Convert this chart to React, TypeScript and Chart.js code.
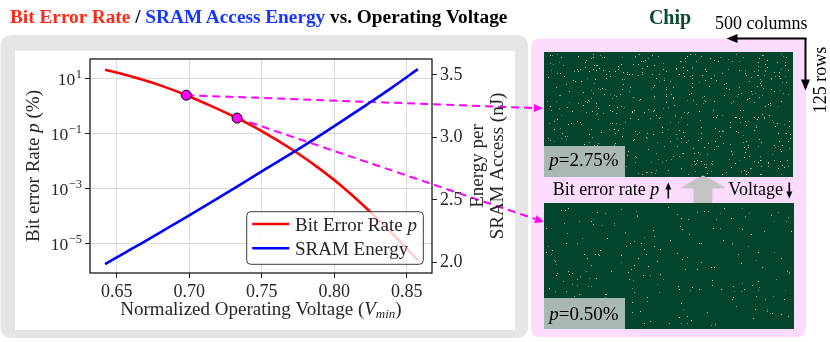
import React, { useEffect, useRef } from "react";
import { Chart, registerables } from "chart.js";

Chart.register(...registerables);

// ---------------- data ----------------
const voltage = [0.642, 0.655, 0.668, 0.683, 0.698, 0.715, 0.733, 0.75, 0.773, 0.79, 0.805, 0.822, 0.84, 0.8576];
const bitErrorRatePct = [20.4, 13.65, 8.81, 4.9, 2.45, 1.0, 0.363, 0.123, 0.0224, 0.00525, 0.00126, 0.0002, 0.000024, 0.00000251];
const sramEnergyNj = [1.986, 2.072, 2.158, 2.259, 2.361, 2.479, 2.606, 2.728, 2.89, 3.015, 3.128, 3.259, 3.401, 3.547];
const markerVoltage = [0.698, 0.733];
const markerRatePct = [2.45, 0.363];
const chipLabels = ["2.75%", "0.50%"];
const voltageTicks = [0.65, 0.7, 0.75, 0.8, 0.85];
const rateTicks = [1e-5, 1e-3, 1e-1, 1e1];
const energyTicks = [2.0, 2.5, 3.0, 3.5];
const voltageRange = [0.6316, 0.8674];
const rateRange = [8.9e-7, 50.1];
const energyRange = [1.914, 3.628];

const SERIF = '"Liberation Serif", "Times New Roman", serif';
const INK = "#262626";

Chart.defaults.font.family = SERIF;

type Seg = { t: string; it?: boolean; sz?: number; dy?: number };

function fontOf(s: Seg, size: number) {
  return `${s.it ? "italic " : ""}${s.sz ?? size}px ${SERIF}`;
}

function drawRich(ctx: CanvasRenderingContext2D, segs: Seg[], x: number, y: number, size: number, align: "left" | "center" | "right") {
  let total = 0;
  const ws = segs.map((s) => {
    ctx.font = fontOf(s, size);
    const w = ctx.measureText(s.t).width;
    total += w;
    return w;
  });
  let cx = align === "center" ? x - total / 2 : align === "right" ? x - total : x;
  ctx.textAlign = "left";
  ctx.textBaseline = "alphabetic";
  segs.forEach((s, i) => {
    ctx.font = fontOf(s, size);
    ctx.fillText(s.t, cx, y + (s.dy || 0));
    cx += ws[i];
  });
}

function roundRect(ctx: CanvasRenderingContext2D, x: number, y: number, w: number, h: number, r: number) {
  ctx.beginPath();
  ctx.moveTo(x + r, y);
  ctx.lineTo(x + w - r, y);
  ctx.quadraticCurveTo(x + w, y, x + w, y + r);
  ctx.lineTo(x + w, y + h - r);
  ctx.quadraticCurveTo(x + w, y + h, x + w - r, y + h);
  ctx.lineTo(x + r, y + h);
  ctx.quadraticCurveTo(x, y + h, x, y + h - r);
  ctx.lineTo(x, y + r);
  ctx.quadraticCurveTo(x, y, x + r, y);
  ctx.closePath();
}

function hash(n: number) {
  const s = Math.sin(n * 127.1 + 311.7) * 43758.5453;
  return s - Math.floor(s);
}

function drawChip(ctx: CanvasRenderingContext2D, x0: number, y0: number, w: number, h: number, count: number, seed: number) {
  ctx.fillStyle = "#04462b";
  ctx.fillRect(x0, y0, w, h);
  for (let i = 0; i < count; i++) {
    const k = seed * 7919 + i * 3;
    const x = x0 + 2 + Math.floor(hash(k) * (w - 4));
    const y = y0 + 2 + Math.floor(hash(k + 1) * (h - 4));
    const a = 0.4 + 0.5 * hash(k + 2);
    ctx.fillStyle = `rgba(225,235,225,${a.toFixed(2)})`;
    ctx.fillRect(x, y, 1, 1);
  }
}

function arrowHead(ctx: CanvasRenderingContext2D, tx: number, ty: number, ang: number, len: number, half: number) {
  const bx = tx - len * Math.cos(ang);
  const by = ty - len * Math.sin(ang);
  const px = -Math.sin(ang) * half;
  const py = Math.cos(ang) * half;
  ctx.beginPath();
  ctx.moveTo(tx, ty);
  ctx.lineTo(bx + px, by + py);
  ctx.lineTo(bx - px, by - py);
  ctx.closePath();
  ctx.fill();
}

const decorPlugin = {
  id: "decor",
  beforeDraw(chart: any) {
    const ctx: CanvasRenderingContext2D = chart.ctx;
    ctx.save();
    // grey panel + white plot box
    roundRect(ctx, 0.5, 35, 527.5, 303, 12);
    ctx.fillStyle = "#e5e5e5";
    ctx.fill();
    ctx.fillStyle = "#ffffff";
    ctx.fillRect(15, 51, 500, 279);
    // pink chip panel
    roundRect(ctx, 531, 38.5, 275, 298.5, 9);
    ctx.fillStyle = "#fcdcfc";
    ctx.fill();
    // chips
    drawChip(ctx, 544, 52, 249, 125, 600, 1);
    drawChip(ctx, 544, 203, 250, 126, 220, 2);
    // label boxes
    ctx.fillStyle = "#a9b8b2";
    ctx.fillRect(544, 146, 81, 31);
    ctx.fillRect(544, 298, 81, 31);
    // grey block arrow
    ctx.save();
    ctx.shadowColor = "rgba(0,0,0,0.25)";
    ctx.shadowBlur = 2;
    ctx.fillStyle = "#c4c4c4";
    ctx.beginPath();
    ctx.moveTo(703, 175.5);
    ctx.lineTo(725, 188);
    ctx.lineTo(712, 188);
    ctx.lineTo(712, 203);
    ctx.lineTo(694, 203);
    ctx.lineTo(694, 188);
    ctx.lineTo(681, 188);
    ctx.closePath();
    ctx.fill();
    ctx.restore();
    // black dimension arrows
    ctx.strokeStyle = "#000";
    ctx.fillStyle = "#000";
    ctx.lineWidth = 2;
    ctx.beginPath();
    ctx.moveTo(806.5, 38.5);
    ctx.lineTo(736, 38.5);
    ctx.stroke();
    arrowHead(ctx, 726.5, 38.5, Math.PI, 11, 4.5);
    ctx.beginPath();
    ctx.moveTo(805.5, 38);
    ctx.lineTo(805.5, 80);
    ctx.stroke();
    arrowHead(ctx, 805.5, 90.5, Math.PI / 2, 11, 4.5);
    // small up / down arrows
    ctx.lineWidth = 1.6;
    ctx.beginPath();
    ctx.moveTo(668.3, 198.5);
    ctx.lineTo(668.3, 188);
    ctx.stroke();
    arrowHead(ctx, 668.3, 182.5, -Math.PI / 2, 7, 3);
    ctx.beginPath();
    ctx.moveTo(789.3, 182.5);
    ctx.lineTo(789.3, 193);
    ctx.stroke();
    arrowHead(ctx, 789.3, 198.5, Math.PI / 2, 7, 3);
    ctx.restore();
  },
  beforeDatasetsDraw(chart: any) {
    const ctx: CanvasRenderingContext2D = chart.ctx;
    const xs = chart.scales.x;
    const ys = chart.scales.y;
    const targets = [
      [543, 108.3],
      [544, 222],
    ];
    ctx.save();
    ctx.strokeStyle = "#ff00ff";
    ctx.fillStyle = "#ff00ff";
    markerVoltage.forEach((v, i) => {
      const px = xs.getPixelForValue(v);
      const py = ys.getPixelForValue(markerRatePct[i]);
      const [tx, ty] = targets[i];
      const ang = Math.atan2(ty - py, tx - px);
      const hl = 9;
      ctx.lineWidth = 2;
      ctx.setLineDash([8, 5]);
      ctx.beginPath();
      ctx.moveTo(px, py);
      ctx.lineTo(tx - hl * Math.cos(ang), ty - hl * Math.sin(ang));
      ctx.stroke();
      ctx.setLineDash([]);
      arrowHead(ctx, tx, ty, ang, hl, 4);
    });
    ctx.restore();
  },
  afterDraw(chart: any) {
    const ctx: CanvasRenderingContext2D = chart.ctx;
    const ca = chart.chartArea;
    ctx.save();
    // frame
    ctx.strokeStyle = "#1a1a1a";
    ctx.lineWidth = 1.3;
    ctx.strokeRect(ca.left, ca.top, ca.right - ca.left, ca.bottom - ca.top);

    ctx.fillStyle = INK;
    // left tick labels 10^n
    const ys = chart.scales.y;
    rateTicks.forEach((v) => {
      const py = ys.getPixelForValue(v);
      const e = Math.round(Math.log10(v));
      const expStr = e < 0 ? "\u2212" + Math.abs(e) : String(e);
      ctx.textAlign = "right";
      ctx.textBaseline = "alphabetic";
      ctx.font = `12.5px ${SERIF}`;
      const ew = ctx.measureText(expStr).width;
      ctx.fillText(expStr, ca.left - 8, py - 0.5);
      ctx.font = `17.5px ${SERIF}`;
      ctx.fillText("10", ca.left - 8 - ew - 0.5, py + 6.3);
    });

    // x title
    drawRich(
      ctx,
      [{ t: "Normalized Operating Voltage (" }, { t: "V", it: true }, { t: "min", it: true, sz: 13, dy: 3 }, { t: ")" }],
      (ca.left + ca.right) / 2,
      314.5,
      19,
      "center"
    );
    // left y title
    ctx.save();
    ctx.translate(38.5, (ca.top + ca.bottom) / 2);
    ctx.rotate(-Math.PI / 2);
    drawRich(ctx, [{ t: "Bit error Rate " }, { t: "p", it: true }, { t: " (%)" }], 0, 0, 19, "center");
    ctx.restore();
    // right y title (two lines)
    ctx.save();
    ctx.translate(483, (ca.top + ca.bottom) / 2);
    ctx.rotate(-Math.PI / 2);
    drawRich(ctx, [{ t: "Energy per" }], 0, 0, 19, "center");
    drawRich(ctx, [{ t: "SRAM Access (nJ)" }], 0, 20, 19, "center");
    ctx.restore();

    // legend
    const w = 176.6;
    const h = 52.6;
    const lx = ca.right - 8.7 - w;
    const ly = ca.bottom - 8.7 - h;
    roundRect(ctx, lx, ly, w, h, 4);
    ctx.fillStyle = "rgba(255,255,255,0.8)";
    ctx.fill();
    ctx.strokeStyle = "#3a3a3a";
    ctx.lineWidth = 1;
    ctx.stroke();
    const entries: { color: string; segs: Seg[] }[] = [
      { color: "#ff0000", segs: [{ t: "Bit Error Rate " }, { t: "p", it: true }] },
      { color: "#0000ff", segs: [{ t: "SRAM Energy" }] },
    ];
    entries.forEach((en, i) => {
      const ry = ly + 12.3 + i * 24.3;
      ctx.strokeStyle = en.color;
      ctx.lineWidth = 2.6;
      ctx.beginPath();
      ctx.moveTo(lx + 5.5, ry);
      ctx.lineTo(lx + 42.6, ry);
      ctx.stroke();
      ctx.fillStyle = INK;
      drawRich(ctx, en.segs, lx + 48.3, ry + 6.5, 19, "left");
    });
    ctx.restore();
  },
};

const gridBase = {
  color: "#dadada",
  lineWidth: 1,
  drawTicks: true,
  tickLength: 5,
  tickColor: "#222",
  tickWidth: 1,
};

export default function App() {
  const ref = useRef<HTMLCanvasElement | null>(null);

  useEffect(() => {
    if (!ref.current) return;
    const chart = new Chart(ref.current, {
      type: "line",
      data: {
        datasets: [
          {
            label: "markers",
            data: markerVoltage.map((v, i) => ({ x: v, y: markerRatePct[i] })),
            yAxisID: "y",
            showLine: false,
            pointRadius: 5,
            pointBackgroundColor: "#ff00ff",
            pointBorderColor: "#000",
            pointBorderWidth: 1,
            order: 0,
          },
          {
            label: "SRAM Energy",
            data: voltage.map((v, i) => ({ x: v, y: sramEnergyNj[i] })),
            yAxisID: "y1",
            borderColor: "#0000ff",
            borderWidth: 2.6,
            pointRadius: 0,
            cubicInterpolationMode: "monotone",
            order: 1,
          },
          {
            label: "Bit Error Rate p",
            data: voltage.map((v, i) => ({ x: v, y: bitErrorRatePct[i] })),
            yAxisID: "y",
            borderColor: "#ff0000",
            borderWidth: 2.6,
            pointRadius: 0,
            cubicInterpolationMode: "monotone",
            order: 2,
          },
        ],
      } as any,
      options: {
        animation: false,
        responsive: false,
        devicePixelRatio: 1,
        events: [],
        layout: { padding: { left: 20, right: 338, top: 59, bottom: 10 } },
        plugins: { legend: { display: false }, tooltip: { enabled: false } },
        scales: {
          x: {
            type: "linear",
            position: "bottom",
            min: voltageRange[0],
            max: voltageRange[1],
            afterBuildTicks: (s: any) => {
              s.ticks = voltageTicks.map((v) => ({ value: v }));
            },
            afterFit: (s: any) => {
              s.height = 59;
            },
            grid: gridBase,
            border: { display: false },
            ticks: {
              font: { family: SERIF, size: 18 },
              color: INK,
              padding: 3,
              maxRotation: 0,
              autoSkip: false,
              callback: (v: any) => Number(v).toFixed(2),
            },
          },
          y: {
            type: "logarithmic",
            position: "left",
            min: rateRange[0],
            max: rateRange[1],
            afterBuildTicks: (s: any) => {
              s.ticks = rateTicks.map((v) => ({ value: v, major: true }));
            },
            afterFit: (s: any) => {
              s.width = 70;
            },
            grid: gridBase,
            border: { display: false },
            ticks: { display: false },
          },
          y1: {
            type: "linear",
            position: "right",
            min: energyRange[0],
            max: energyRange[1],
            afterBuildTicks: (s: any) => {
              s.ticks = energyTicks.map((v) => ({ value: v }));
            },
            afterFit: (s: any) => {
              s.width = 60;
            },
            grid: { ...gridBase, drawOnChartArea: false },
            border: { display: false },
            ticks: {
              font: { family: SERIF, size: 18 },
              color: INK,
              padding: 3,
              callback: (v: any) => Number(v).toFixed(1),
            },
          },
        },
      } as any,
      plugins: [decorPlugin as any],
    });
    return () => chart.destroy();
  }, []);

  const abs = (left: number, top: number, size: number, extra: React.CSSProperties = {}): React.CSSProperties => ({
    position: "absolute",
    left,
    top,
    fontSize: size,
    lineHeight: 1,
    whiteSpace: "nowrap",
    color: "#000",
    ...extra,
  });

  return (
    <div style={{ position: "absolute", left: 0, top: 0, width: 830, height: 342, overflow: "hidden", background: "#fff", fontFamily: SERIF }}>
      <canvas ref={ref} width={830} height={342} style={{ position: "absolute", left: 0, top: 0, width: 830, height: 342 }} />
      <div style={abs(10, 6.5, 19.3, { fontWeight: "bold" })}>
        <span style={{ color: "#ff2a17" }}>Bit Error Rate</span> / <span style={{ color: "#1736ff" }}>SRAM Access Energy</span> vs. Operating Voltage
      </div>
      <div style={abs(620, 6.6, 20, { fontWeight: "bold", width: 100, textAlign: "center", color: "#0b4a2c" })}>Chip</div>
      <div style={abs(715, 14.2, 18)}>500 columns</div>
      <div style={abs(780, 71, 18, { width: 80, textAlign: "center", transform: "rotate(-90deg)", transformOrigin: "center center" })}>125 rows</div>
      <div style={abs(549.3, 149.8, 19)}>
        <i>p</i>={chipLabels[0]}
      </div>
      <div style={abs(549.3, 304.1, 19)}>
        <i>p</i>={chipLabels[1]}
      </div>
      <div style={abs(552.7, 179.9, 18)}>
        Bit error rate <i>p</i>
      </div>
      <div style={abs(728.3, 179.9, 18)}>Voltage</div>
    </div>
  );
}
